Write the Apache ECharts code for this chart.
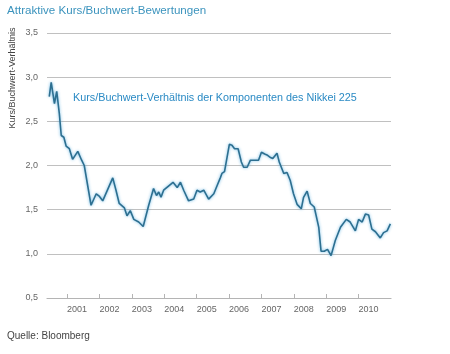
<!DOCTYPE html>
<html>
<head>
<meta charset="utf-8">
<script src="https://cdn.jsdelivr.net/npm/echarts@6/dist/echarts.min.js"></script>
<style>
  html, body { margin: 0; padding: 0; background: #fff; }
  #main { width: 450px; height: 354px; }
</style>
</head>
<body>
<div id="main"></div>
<script>
// Zeitpunkte (Dezimaljahre) und KBV-Werte
const years = [
  2000.45, 2000.51, 2000.61, 2000.68, 2000.76, 2000.82, 2000.90, 2000.97,
  2001.07, 2001.17, 2001.33, 2001.45, 2001.53, 2001.74, 2001.90, 2002.00,
  2002.10, 2002.41, 2002.51, 2002.61, 2002.77, 2002.85, 2002.95, 2003.06,
  2003.21, 2003.35, 2003.52, 2003.67, 2003.76, 2003.83, 2003.90, 2003.98,
  2004.14, 2004.27, 2004.40, 2004.50, 2004.60, 2004.75, 2004.91, 2005.01,
  2005.11, 2005.22, 2005.37, 2005.53, 2005.63, 2005.73, 2005.78, 2005.86,
  2006.01, 2006.09, 2006.17, 2006.28, 2006.38, 2006.45, 2006.56, 2006.66,
  2006.81, 2006.91, 2007.00, 2007.10, 2007.17, 2007.28, 2007.35, 2007.48,
  2007.55, 2007.69, 2007.79, 2007.89, 2007.99, 2008.10, 2008.23, 2008.30,
  2008.41, 2008.51, 2008.63, 2008.69, 2008.77, 2008.84, 2008.94, 2009.04,
  2009.15, 2009.28, 2009.44, 2009.62, 2009.74, 2009.90, 2010.00, 2010.11,
  2010.21, 2010.31, 2010.41, 2010.52, 2010.67, 2010.77, 2010.88, 2010.98
];
const kbv = [
  2.78, 2.94, 2.70, 2.84, 2.59, 2.34, 2.32, 2.22,
  2.19, 2.07, 2.16, 2.06, 2.00, 1.55, 1.68, 1.65,
  1.60, 1.86, 1.72, 1.57, 1.52, 1.43, 1.49, 1.39,
  1.36, 1.31, 1.55, 1.74, 1.66, 1.70, 1.64, 1.72,
  1.77, 1.81, 1.75, 1.81, 1.72, 1.60, 1.62, 1.72,
  1.70, 1.72, 1.62, 1.68, 1.77, 1.86, 1.91, 1.93,
  2.24, 2.23, 2.19, 2.19, 2.04, 1.98, 1.98, 2.06,
  2.06, 2.06, 2.15, 2.13, 2.12, 2.09, 2.08, 2.14,
  2.04, 1.91, 1.92, 1.83, 1.68, 1.56, 1.51, 1.64,
  1.71, 1.57, 1.53, 1.51, 1.30, 1.03, 1.03, 1.05,
  0.98, 1.15, 1.30, 1.39, 1.36, 1.26, 1.39, 1.36,
  1.45, 1.44, 1.28, 1.25, 1.18, 1.24, 1.26, 1.34
];
const yearTicks = [2001, 2002, 2003, 2004, 2005, 2006, 2007, 2008, 2009, 2010];

(function() {
    var chart = echarts.init(document.getElementById('main'), null, {renderer: 'canvas'});
    var font = 'Liberation Sans, Arial, sans-serif';
    var points = years.map(function(y, i) { return [y, kbv[i]]; });

    var option = {
        animation: false,
        backgroundColor: '#fff',
        grid: {left: 47, right: 59, top: 33, bottom: 56},
        xAxis: {
            type: 'value',
            min: 2000.38,
            max: 2011.0,
            axisLine: {show: true, lineStyle: {color: '#b4b4b4', width: 1.2}},
            axisTick: {show: true, inside: true, length: 4, lineStyle: {color: '#b4b4b4'}, customValues: yearTicks},
            axisLabel: {
                customValues: yearTicks, align: 'left', margin: 7,
                color: '#666', fontSize: 9, fontFamily: font,
                formatter: function(v) { return String(v); }
            },
            splitLine: {show: false}
        },
        yAxis: {
            type: 'value',
            min: 0.5,
            max: 3.5,
            interval: 0.5,
            axisLine: {show: false},
            axisTick: {show: false},
            axisLabel: {
                color: '#666', fontSize: 9, fontFamily: font, margin: 9,
                formatter: function(v) { return v.toFixed(1).replace('.', ','); }
            },
            splitLine: {lineStyle: {color: '#c0c0c0', width: 1.2}}
        },
        graphic: [
            {type: 'text', left: 7, top: 5,
             style: {text: 'Attraktive Kurs/Buchwert-Bewertungen', fill: '#3b93bd', fontSize: 11.6, fontFamily: font}},
            {type: 'text', x: 13, y: 78, rotation: Math.PI / 2,
             style: {text: 'Kurs/Buchwert-Verhältnis', fill: '#444', fontSize: 9, fontFamily: font, align: 'center', verticalAlign: 'middle'}},
            {type: 'text', left: 73, top: 93,
             style: {text: 'Kurs/Buchwert-Verhältnis der Komponenten des Nikkei 225', fill: '#2a8ac4', fontSize: 10.8, fontFamily: font}},
            {type: 'text', left: 7, top: 331,
             style: {text: 'Quelle: Bloomberg', fill: '#444', fontSize: 10, fontFamily: font}}
        ],
        series: [{
            name: 'KBV Nikkei 225',
            type: 'line',
            data: points,
            showSymbol: false,
            smooth: false,
            lineStyle: {
                color: '#2d6f90', width: 1.6,
                shadowColor: 'rgba(90,175,225,0.9)', shadowBlur: 3
            }
        }]
    };
    chart.setOption(option);
})();
</script>
</body>
</html>
